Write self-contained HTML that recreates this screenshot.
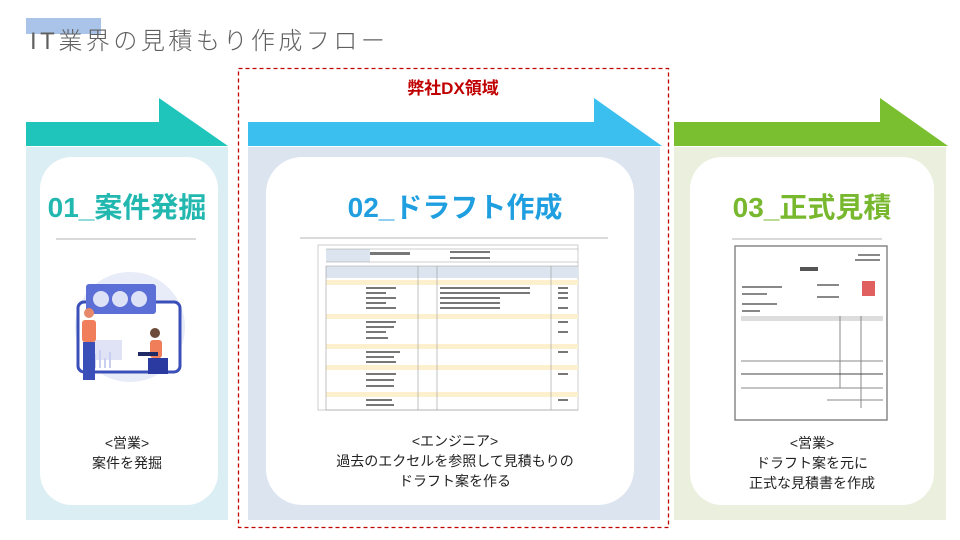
<!DOCTYPE html>
<html><head><meta charset="utf-8"><style>
*{margin:0;padding:0;box-sizing:border-box}
body{width:960px;height:540px;background:#fff;position:relative;overflow:hidden;font-family:"Liberation Sans","Noto Sans CJK JP",sans-serif}
.a{position:absolute}
.t{position:absolute;text-align:center;white-space:nowrap}
</style></head><body>
<div class="a" style="left:26px;top:18px;width:75px;height:16px;background:#a9c4e8"></div>
<div class="a" style="left:30px;top:21px;font-size:24px;color:#606060;white-space:nowrap;letter-spacing:3.5px;font-weight:300">IT業界の見積もり作成フロー</div>

<svg class="a" style="left:0;top:0" width="960" height="540">
<polygon points="26,122 159,122 159,98 228,146 26,146" fill="#1fc5bb"/>
<polygon points="248,122 594,122 594,98 662,146 248,146" fill="#3bbfef"/>
<polygon points="674,122 880,122 880,98 948,146 674,146" fill="#79bf2f"/>
<rect x="26" y="147" width="202" height="373" fill="#dbeef3"/>
<rect x="248" y="147" width="412" height="373" fill="#dce4f0"/>
<rect x="674" y="147" width="272" height="373" fill="#ebefdd"/>
<rect x="40" y="157" width="178" height="348" rx="32" fill="#fff"/>
<rect x="266" y="157" width="368" height="348" rx="36" fill="#fff"/>
<rect x="690" y="157" width="244" height="348" rx="32" fill="#fff"/>
<rect x="238.5" y="68.5" width="430" height="459" fill="none" stroke="#c00000" stroke-width="1.3" stroke-dasharray="4,3"/>
<line x1="56" y1="239" x2="196" y2="239" stroke="#b5b5b5"/>
<line x1="300" y1="238" x2="608" y2="238" stroke="#b5b5b5"/>
<line x1="732" y1="239" x2="882" y2="239" stroke="#b5b5b5"/>
<g>
<circle cx="130" cy="327" r="55" fill="#e8ecf8"/>
<rect x="78" y="302" width="102" height="70" rx="6" fill="#fff" stroke="#3b4fb8" stroke-width="3"/>
<rect x="86" y="284" width="70" height="30" rx="3" fill="#5b6fd6"/>
<circle cx="101" cy="299" r="8" fill="#fff" opacity=".8"/><circle cx="120" cy="299" r="8" fill="#fff" opacity=".8"/><circle cx="139" cy="299" r="8" fill="#fff" opacity=".8"/>
<rect x="92" y="340" width="30" height="20" fill="#dfe3f5"/>
<path d="M90 368 l0 -8 M95 368 l0 -14 M100 368 l0 -18 M105 368 l0 -10 M110 368 l0 -16" stroke="#c9cff0" stroke-width="2"/>
<circle cx="89" cy="313" r="5" fill="#e8886b"/>
<rect x="82" y="320" width="14" height="22" rx="3" fill="#f07e5a"/>
<rect x="83" y="342" width="12" height="38" fill="#3b4fb8"/>
<circle cx="155" cy="333" r="5" fill="#6d4a3a"/>
<rect x="150" y="340" width="12" height="18" rx="3" fill="#f07e5a"/>
<rect x="138" y="352" width="20" height="4" fill="#1f2a66"/>
<rect x="148" y="358" width="20" height="16" fill="#2b3aa0"/>
</g>
<g>
<rect x="318" y="245" width="260" height="165" fill="#fff" stroke="#ccc"/>
<rect x="326" y="249" width="44" height="13" fill="#dce4f0"/>
<rect x="326" y="266" width="252" height="12" fill="#dce4f0"/>
<g fill="#fdf0cf">
<rect x="326" y="280" width="252" height="5"/><rect x="326" y="314" width="252" height="5"/><rect x="326" y="344" width="252" height="5"/><rect x="326" y="365" width="252" height="5"/><rect x="326" y="392" width="252" height="5"/>
</g>
<g stroke="#999" stroke-width=".6">
<line x1="326" y1="262" x2="578" y2="262"/><line x1="326" y1="249" x2="578" y2="249"/>
<line x1="326" y1="266" x2="578" y2="266"/><line x1="326" y1="410" x2="578" y2="410"/>
<line x1="418" y1="266" x2="418" y2="410"/><line x1="437" y1="266" x2="437" y2="410"/>
<line x1="551" y1="266" x2="551" y2="410"/><line x1="326" y1="266" x2="326" y2="410"/>
</g>
<g fill="#777">
<rect x="370" y="252" width="40" height="3"/><rect x="450" y="251" width="40" height="2"/><rect x="450" y="257" width="40" height="2"/>
<rect x="366" y="287" width="30" height="2"/><rect x="366" y="292" width="20" height="2"/><rect x="366" y="297" width="30" height="2"/><rect x="366" y="302" width="20" height="2"/><rect x="366" y="307" width="30" height="2"/>
<rect x="366" y="321" width="30" height="2"/><rect x="366" y="326" width="28" height="2"/><rect x="366" y="331" width="20" height="2"/><rect x="366" y="337" width="22" height="2"/>
<rect x="366" y="351" width="34" height="2"/><rect x="366" y="356" width="28" height="2"/><rect x="366" y="361" width="30" height="2"/>
<rect x="366" y="373" width="30" height="2"/><rect x="366" y="379" width="28" height="2"/><rect x="366" y="385" width="28" height="2"/>
<rect x="366" y="399" width="26" height="2"/><rect x="366" y="404" width="28" height="2"/>
<rect x="440" y="287" width="90" height="2"/><rect x="440" y="292" width="90" height="2"/><rect x="440" y="297" width="60" height="2"/><rect x="440" y="302" width="60" height="2"/><rect x="440" y="307" width="60" height="2"/>
<rect x="558" y="287" width="10" height="2"/><rect x="558" y="292" width="10" height="2"/><rect x="558" y="297" width="10" height="2"/><rect x="558" y="307" width="10" height="2"/><rect x="558" y="321" width="10" height="2"/><rect x="558" y="331" width="10" height="2"/><rect x="558" y="351" width="10" height="2"/><rect x="558" y="373" width="10" height="2"/><rect x="558" y="399" width="10" height="2"/>
</g>
</g>
<g>
<rect x="735" y="246" width="152" height="174" fill="#fff" stroke="#888" stroke-width="1.5"/>
<rect x="800" y="267" width="18" height="4" fill="#555"/>
<rect x="862" y="281" width="13" height="15" fill="#e06060"/>
<rect x="741" y="316" width="142" height="5" fill="#ddd"/>
<g fill="#888"><rect x="742" y="286" width="40" height="2"/><rect x="742" y="293" width="25" height="2"/><rect x="742" y="303" width="35" height="2"/><rect x="742" y="310" width="18" height="2"/><rect x="817" y="284" width="22" height="2"/><rect x="817" y="296" width="22" height="2"/><rect x="858" y="254" width="22" height="2"/><rect x="855" y="259" width="25" height="2"/></g>
<g stroke="#888"><line x1="840" y1="316" x2="840" y2="388"/><line x1="861" y1="316" x2="861" y2="408"/><line x1="741" y1="361" x2="883" y2="361"/><line x1="741" y1="374" x2="883" y2="374" stroke="#444"/><line x1="741" y1="388" x2="883" y2="388"/><line x1="827" y1="400" x2="883" y2="400"/></g>
</g>
</svg>

<div class="t" style="left:238px;width:430px;top:74px;font-size:17px;font-weight:bold;color:#c00000">弊社DX領域</div>
<div class="t" style="left:26px;width:202px;top:186px;font-size:28px;font-weight:bold;color:#22b8b0">01_案件発掘</div>
<div class="t" style="left:266px;width:378px;top:186px;font-size:28px;font-weight:bold;color:#1f9fe0">02_ドラフト作成</div>
<div class="t" style="left:690px;width:244px;top:186px;font-size:28px;font-weight:bold;color:#78b82e">03_正式見積</div>
<div class="t" style="left:26px;width:202px;top:433px;font-size:14px;line-height:20px;color:#222">&lt;営業&gt;<br>案件を発掘</div>
<div class="t" style="left:266px;width:378px;top:431px;font-size:14px;line-height:20px;color:#222">&lt;エンジニア&gt;<br>過去のエクセルを参照して見積もりの<br>ドラフト案を作る</div>
<div class="t" style="left:690px;width:244px;top:433px;font-size:14px;line-height:20px;color:#222">&lt;営業&gt;<br>ドラフト案を元に<br>正式な見積書を作成</div>
</body></html>
